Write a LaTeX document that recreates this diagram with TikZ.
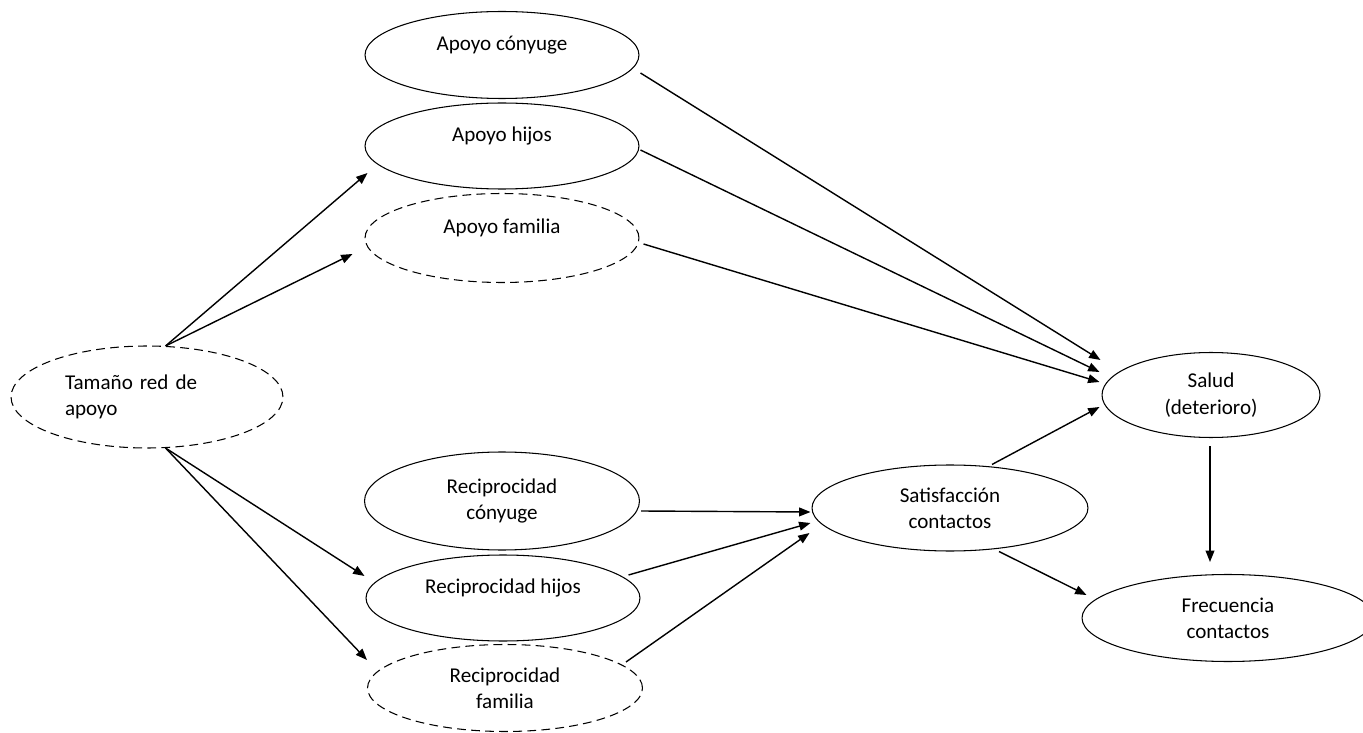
\documentclass[tikz,border=0pt]{standalone}
\usepackage{fontspec}
\setmainfont{Carlito}
\usetikzlibrary{shapes.geometric, arrows.meta, calc}
% single-line labels sit in the upper part of the ellipse
\newcommand{\padline}{\\[-6pt]\strut}

\begin{document}
\begin{tikzpicture}[
    x=0.02cm, y=-0.02cm,
    % Node styles
    varnode/.style={
        ellipse,
        draw=black,
        line width=0.6pt,
        inner sep=1pt,
        align=center,
        minimum width=5.48cm,
        minimum height=1.74cm,
        font=\fontsize{12}{15}\selectfont
    },
    latent/.style={
        varnode,
        dash pattern=on 5pt off 3pt
    },
    arrow/.style={
        -{Triangle[length=6.5pt, width=5pt]},
        line width=0.8pt
    }
]
\useasboundingbox (0,0) rectangle (1363,733);

% ============================================
% NODES
% ============================================

% Support
\node[varnode] (conyuge) at (502, 55) {Apoyo cónyuge\padline};
\node[varnode, minimum height=1.72cm] (hijos) at (502, 146) {Apoyo hijos\padline};
\node[latent, minimum height=1.78cm] (familia) at (502, 238) {Apoyo familia\padline};

% Network size
\node[latent, minimum width=5.44cm, minimum height=2.04cm,
      text width=3.28cm, align=left] (tamano) at (147, 397) {Tamaño red de\\apoyo};

% Reciprocity
\node[varnode, minimum width=5.5cm, minimum height=1.96cm] (rconyuge) at (502, 501) {Reciprocidad\\cónyuge};
\node[varnode, minimum height=1.72cm] (rhijos) at (503, 598) {Reciprocidad hijos\padline};
\node[latent, minimum width=5.5cm] (rfamilia) at (505, 688) {Reciprocidad\\familia};

% Outcomes
\node[varnode, minimum width=5.52cm, minimum height=1.72cm] (satisf) at (950, 508) {Satisfacción\\contactos};
\node[varnode, minimum width=4.36cm, minimum height=1.7cm] (salud) at (1211, 395) {Salud\\(deterioro)};
\node[varnode, minimum width=5.84cm] (frecuencia) at (1228, 618) {Frecuencia\\contactos};

% ============================================
% ARROWS
% ============================================

% Tamaño -> Apoyo / Reciprocidad
\draw[arrow] (tamano.70) -- ($(hijos.west)+(3,27)$);
\draw[arrow] (tamano.70) -- ($(familia.west)+(-12,16)$);
\draw[arrow] (tamano.-70) -- ($(rhijos.west)+(-1,-22)$);
\draw[arrow] (tamano.-70) -- ($(rfamilia.west)+(0,-28)$);

% Apoyo -> Salud
\draw[arrow] ($(conyuge.east)+(1,18)$) -- ($(salud.west)+(-1,-35)$);
\draw[arrow] ($(hijos.east)+(1,4)$) -- ($(salud.west)+(-2,-23)$);
\draw[arrow] ($(familia.east)+(4,6)$) -- ($(salud.west)+(-2,-13)$);

% Reciprocidad -> Satisfacción
\draw[arrow] ($(rconyuge.east)+(1,10)$) -- ($(satisf.west)+(-1,4)$);
\draw[arrow] ($(rhijos.east)+(-12,-23)$) -- ($(satisf.west)+(-1,15)$);
\draw[arrow] ($(rfamilia.east)+(-17,-26)$) -- ($(satisf.west)+(-2,25)$);

% Satisfacción -> Salud / Frecuencia
\draw[arrow] ($(satisf.north)+(42,0)$) -- ($(salud.west)+(-2,12)$);
\draw[arrow] ($(satisf.south)+(49,0)$) -- ($(frecuencia.west)+(5,-23)$);

% Salud -> Frecuencia
\draw[arrow] ($(salud.south)+(-1,8)$) -- ($(salud.south |- frecuencia.north)+(-1,-12)$);

\end{tikzpicture}
\end{document}
